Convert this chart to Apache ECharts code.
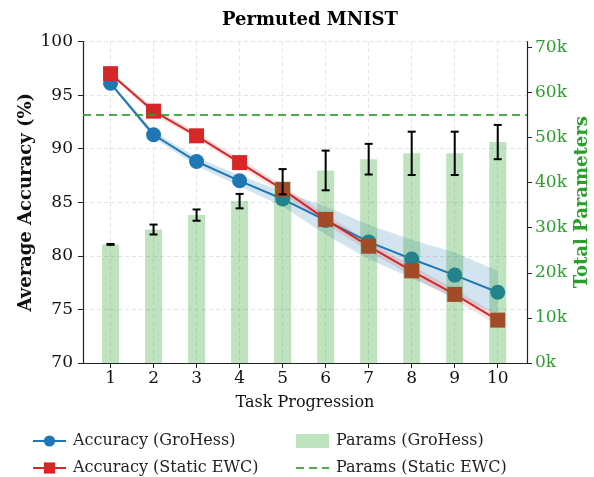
<!DOCTYPE html>
<html>
<head>
<meta charset="utf-8">
<script src="https://cdn.jsdelivr.net/npm/echarts@6/dist/echarts.min.js"></script>
<style>
  html, body { margin: 0; padding: 0; background: #fff; }
  #chart { width: 594px; height: 477px; }
</style>
</head>
<body>
<div id="chart"></div>
<script>
// data
const tasks = [1, 2, 3, 4, 5, 6, 7, 8, 9, 10];
const groHessAcc = [96.1, 91.3, 88.8, 87.0, 85.3, 83.3, 81.3, 79.7, 78.2, 76.6];
const groHessStd = [0.15, 0.3, 0.4, 0.5, 0.7, 1.3, 1.6, 1.8, 2.1, 2.0];
const ewcAcc = [97.0, 93.5, 91.2, 88.7, 86.2, 83.4, 80.9, 78.6, 76.4, 74.0];
const ewcStd = [0.2, 0.3, 0.3, 0.35, 0.4, 0.45, 0.45, 0.5, 0.5, 0.5];
const paramsGroHess = [26300, 29600, 32800, 35900, 40200, 42700, 45200, 46500, 46500, 49000];
const paramsErr = [100, 1100, 1250, 1600, 2800, 4400, 3400, 4800, 4800, 3800];
const paramsStatic = 55000;
const paramTicks = [0, 10000, 20000, 30000, 40000, 50000, 60000, 70000];

const FONT = "DejaVu Serif";
const BLUE = "#1f77b4";
const RED = "#d62728";
const GREEN = "#2ca02c";

const pairs = (ys) => tasks.map((t, i) => [t, ys[i]]);

const chart = echarts.init(document.getElementById("chart"));

function errorBar(params, api) {
  const x = api.value(0);
  const top = api.coord([x, api.value(1) + api.value(2)]);
  const bot = api.coord([x, api.value(1) - api.value(2)]);
  const cap = 4;
  const style = { stroke: "#000", lineWidth: 2 };
  return {
    type: "group",
    children: [
      { type: "line", shape: { x1: top[0], y1: top[1], x2: bot[0], y2: bot[1] }, style },
      { type: "line", shape: { x1: top[0] - cap, y1: top[1], x2: top[0] + cap, y2: top[1] }, style },
      { type: "line", shape: { x1: bot[0] - cap, y1: bot[1], x2: bot[0] + cap, y2: bot[1] }, style },
    ],
  };
}

// mean ± std band as one polygon, drawn once
function band(mean, std, fill) {
  return function (params, api) {
    if (params.dataIndex !== 0) return null;
    const upper = tasks.map((t, i) => api.coord([t, mean[i] + std[i]]));
    const lowerPts = tasks.map((t, i) => api.coord([t, mean[i] - std[i]])).reverse();
    return {
      type: "polygon",
      shape: { points: upper.concat(lowerPts) },
      style: { fill: fill },
    };
  };
}

const legendText = { fontFamily: FONT, fontSize: 16, color: "#222", padding: [0, 0, 0, 2] };

chart.setOption({
  animation: false,
  textStyle: { fontFamily: FONT },
  title: {
    text: "Permuted MNIST",
    left: 305,
    textAlign: "center",
    top: 6,
    textStyle: { fontFamily: FONT, fontWeight: "bold", fontSize: 18, color: "#000" },
  },
  grid: { left: 83, right: 67, top: 41.5, bottom: 114, outerBoundsMode: "none" },
  legend: [
    {
      orient: "vertical",
      left: 27,
      top: 428,
      height: 60,
      itemWidth: 33,
      itemHeight: 14,
      itemGap: 11,
      textStyle: legendText,
      data: ["Accuracy (GroHess)", "Accuracy (Static EWC)"],
    },
    {
      orient: "vertical",
      left: 290,
      top: 428,
      height: 60,
      itemWidth: 33,
      itemHeight: 14,
      itemGap: 11,
      textStyle: legendText,
      data: [
        { name: "Params (GroHess)", icon: "rect" },
        { name: "Params (Static EWC)", itemStyle: { opacity: 0 } },
      ],
    },
  ],
  xAxis: {
    type: "value",
    min: 0.36,
    max: 10.68,
    name: "Task Progression",
    nameLocation: "middle",
    nameGap: 32,
    nameTextStyle: { fontFamily: FONT, fontSize: 16, color: "#111" },
    axisLine: { lineStyle: { color: "#222", width: 1.2 } },
    axisTick: { customValues: tasks, length: 5, lineStyle: { color: "#222" } },
    axisLabel: { customValues: tasks, fontFamily: FONT, fontSize: 17, color: "#111", margin: 7 },
    splitLine: { show: true, lineStyle: { color: "#e3e3e3", type: [4, 3] } },
  },
  yAxis: [
    {
      type: "value",
      min: 70,
      max: 100,
      interval: 5,
      name: "Average Accuracy (%)",
      nameLocation: "middle",
      nameGap: 48,
      nameMoveOverlap: false,
      nameRotate: 90,
      nameTextStyle: { fontFamily: FONT, fontSize: 18, fontWeight: "bold", color: "#111" },
      axisLine: { show: true, lineStyle: { color: "#222", width: 1.2 } },
      axisTick: { show: true, length: 5, lineStyle: { color: "#222" } },
      axisLabel: { fontFamily: FONT, fontSize: 17, color: "#111", margin: 10 },
      splitLine: { show: true, lineStyle: { color: "#e3e3e3", type: [4, 3] } },
    },
    {
      type: "value",
      min: 0,
      max: 71300,
      position: "right",
      name: "Total Parameters",
      nameLocation: "middle",
      nameGap: 46,
      nameMoveOverlap: false,
      nameRotate: 90,
      nameTextStyle: { fontFamily: FONT, fontSize: 18, fontWeight: "bold", color: GREEN },
      axisLine: { show: true, lineStyle: { color: "#222", width: 1.2 } },
      axisTick: { show: true, customValues: paramTicks, length: 5, lineStyle: { color: "#222" } },
      axisLabel: {
        customValues: paramTicks,
        fontFamily: FONT,
        fontSize: 17,
        color: GREEN,
        margin: 8,
        formatter: (v) => Math.round(v / 1000) + "k",
      },
      splitLine: { show: false },
    },
  ],
  series: [
    {
      name: "gh-band",
      type: "custom",
      data: pairs(groHessAcc),
      renderItem: band(groHessAcc, groHessStd, "rgba(31,119,180,0.2)"),
      silent: true,
      z: 1,
    },
    {
      name: "ewc-band",
      type: "custom",
      data: pairs(ewcAcc),
      renderItem: band(ewcAcc, ewcStd, "rgba(214,39,40,0.15)"),
      silent: true,
      z: 1,
    },
    {
      name: "Accuracy (GroHess)",
      type: "line",
      data: pairs(groHessAcc),
      symbol: "circle",
      symbolSize: 15,
      color: BLUE,
      lineStyle: { color: BLUE, width: 2 },
      itemStyle: { color: BLUE },
      z: 2,
    },
    {
      name: "Accuracy (Static EWC)",
      type: "line",
      data: pairs(ewcAcc),
      symbol: "rect",
      symbolSize: 15,
      color: RED,
      lineStyle: { color: RED, width: 2 },
      itemStyle: { color: RED },
      z: 2,
    },
    {
      name: "Params (GroHess)",
      type: "bar",
      yAxisIndex: 1,
      data: pairs(paramsGroHess),
      barWidth: 17,
      color: "rgba(44,160,44,0.3)",
      itemStyle: { color: "rgba(44,160,44,0.3)" },
      z: 3,
    },
    {
      name: "params-err",
      type: "custom",
      yAxisIndex: 1,
      data: tasks.map((t, i) => [t, paramsGroHess[i], paramsErr[i]]),
      renderItem: errorBar,
      silent: true,
      z: 4,
    },
    {
      name: "Params (Static EWC)",
      type: "line",
      yAxisIndex: 1,
      data: [[tasks[0], paramsStatic]],
      symbol: "none",
      color: GREEN,
      lineStyle: { color: GREEN, width: 2, type: [8, 5], opacity: 0.85 },
      z: 3,
      markLine: {
        silent: true,
        symbol: "none",
        label: { show: false },
        lineStyle: { color: GREEN, width: 2, type: [8, 5], opacity: 0.85 },
        data: [{ yAxis: paramsStatic }],
      },
    },
  ],
});
</script>
</body>
</html>
